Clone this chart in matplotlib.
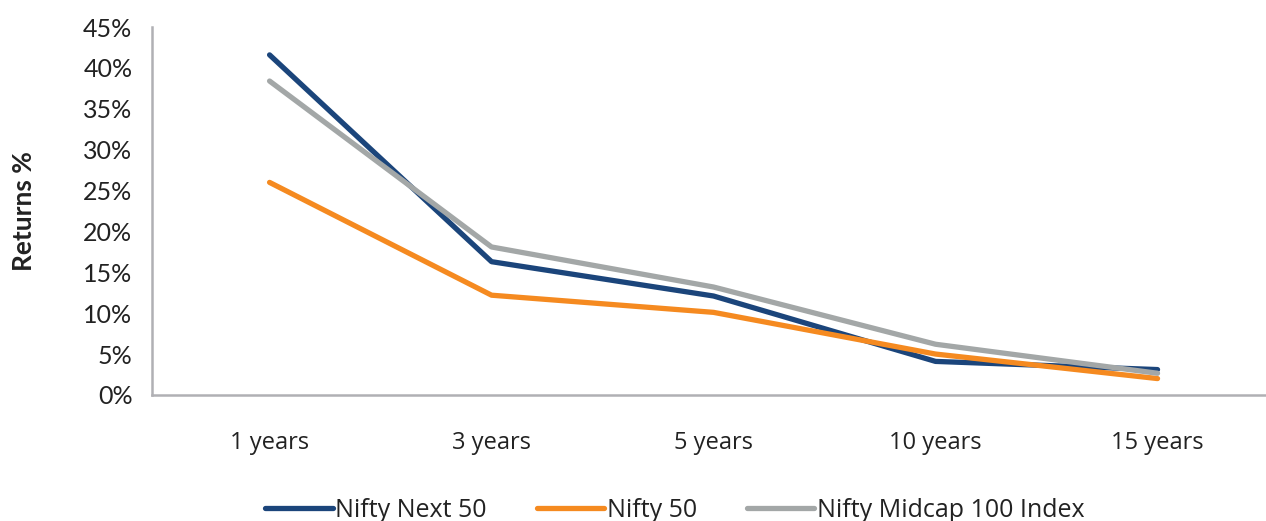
import matplotlib
matplotlib.use("Agg")
import matplotlib.pyplot as plt

periods = ["1 years", "3 years", "5 years", "10 years", "15 years"]
nifty_next50 = [41.6, 16.3, 12.1, 4.1, 3.1]
nifty50 = [26.0, 12.2, 10.1, 5.0, 2.0]
midcap100 = [38.4, 18.1, 13.2, 6.2, 2.65]
yticks = [0, 5, 10, 15, 20, 25, 30, 35, 40, 45]

plt.rcParams['font.family'] = ['Lato', 'DejaVu Sans']

fig = plt.figure(figsize=(12.66, 5.21), dpi=100)
ax = fig.add_axes([0.12, 0.242, 0.882, 0.706])

x = list(range(len(periods)))
ax.plot(x, nifty_next50, color="#1B457B", lw=3.8, label="Nifty Next 50", solid_capstyle="round")
ax.plot(x, nifty50, color="#F58A20", lw=3.8, label="Nifty 50", solid_capstyle="round")
ax.plot(x, midcap100, color="#A3A7A7", lw=3.8, label="Nifty Midcap 100 Index", solid_capstyle="round")

ax.set_xlim(-0.53, 4.5)
ax.set_ylim(0, 45)
ax.set_yticks(yticks)
ax.set_yticklabels([f"{v}%" for v in yticks], fontsize=18, color="#222222")
ax.set_xticks(x)
ax.set_xticklabels(periods, fontsize=17, color="#222222", family=['Open Sans', 'DejaVu Sans'])
ax.tick_params(axis="both", length=0)
ax.tick_params(axis="x", pad=26)
ax.tick_params(axis="y", pad=14)

for s in ["top", "right"]:
    ax.spines[s].set_visible(False)
for s in ["left", "bottom"]:
    ax.spines[s].set_color("#B0B0B4")
    ax.spines[s].set_linewidth(1.8)

ax.set_ylabel("Returns %", fontsize=19, fontweight="bold", color="#222222", labelpad=34)

leg = fig.legend(loc="lower center", bbox_to_anchor=(0.533, -0.047), ncol=3, frameon=False,
                 prop={'family': ['Open Sans', 'DejaVu Sans'], 'size': 18},
                 handlelength=2.7, handletextpad=0.1, columnspacing=2.0)
for t in leg.get_texts():
    t.set_color("#222222")

fig.savefig("out.png", dpi=100)
